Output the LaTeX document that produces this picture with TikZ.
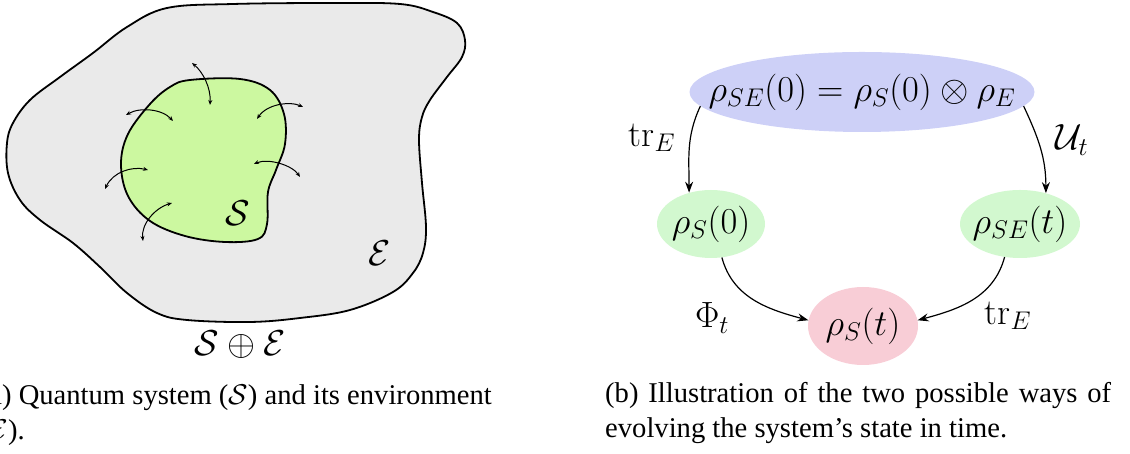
\RequirePackage{fix-cm}
\documentclass[tikz,border=0pt]{standalone}
\usepackage{fontspec}
\newfontfamily\capfont{Liberation Serif}
\usetikzlibrary{shapes.geometric,arrows.meta}
\definecolor{envgray}{RGB}{234,234,234}
\definecolor{sysgreen}{RGB}{204,248,160}
\definecolor{topblue}{RGB}{205,208,247}
\definecolor{nodegreen}{RGB}{210,248,207}
\definecolor{nodepink}{RGB}{248,205,214}
\begin{document}
\begin{tikzpicture}[x=1pt,y=1pt,
  state/.style={ellipse, inner sep=0pt},
  mtext/.style={inner sep=0pt, font=\fontsize{36.5}{40}\selectfont},
  arr/.style={line width=1.2pt, -{Stealth[length=11pt,width=8pt]}},
  smallarr/.style={line width=1pt, {Stealth[length=5pt,width=4pt]}-{Stealth[length=5pt,width=4pt]}},
  lbl/.style={font=\fontsize{36.5}{40}\selectfont, inner sep=0pt},
  biglbl/.style={font=\fontsize{36}{40}\selectfont, inner sep=0pt},
  captext/.style={font=\capfont\fontsize{28.6}{34}\selectfont, inner sep=0pt}]
\useasboundingbox (0,0) rectangle (1130,454);
\begin{scope}
\clip (0,0) rectangle (1130,454);
% environment
\draw[line width=1.8pt, fill=envgray] plot[smooth cycle, tension=0.6] coordinates {
(7,311) (13,331) (30,354) (60,377) (93,401) (127,427) (167,446) (233,450) (333,451) (400,450) (433,442) (457,431) (465,414) (462,397) (447,377) (430,354) (422,337) (419,314) (422,271) (426,227) (423,201) (413,181) (393,162) (350,144) (300,136) (250,132) (187,134) (157,141) (127,161) (100,187) (73,211) (40,234) (20,254) (8,281)};
% system
\draw[line width=1.8pt, fill=sysgreen] plot[smooth cycle, tension=0.6] coordinates {
(190,374) (240,375) (270,364) (284,340) (285,310) (276,284) (268,262) (267,230) (258,215) (225,212) (185,218) (150,233) (128,258) (121,290) (128,320) (150,350) (170,367)};
% interaction arrows
\draw[smallarr] (192,391) .. controls (203,382) and (211,366) .. (210,349);
\draw[smallarr] (126,339) .. controls (140,347) and (162,345) .. (173,333);
\draw[smallarr] (303,347) .. controls (290,353) and (267,350) .. (257,335);
\draw[smallarr] (105,265) .. controls (113,282) and (132,288) .. (148,284);
\draw[smallarr] (300,277) .. controls (292,289) and (268,296) .. (254,290);
\draw[smallarr] (143,213) .. controls (141,230) and (155,246) .. (172,251);
\node[biglbl] (lS) at (238,241) {$\mathcal{S}$};
\node[biglbl] (lE) at (380,201) {$\mathcal{E}$};
\node[biglbl] (lSE) at (240,109) {$\mathcal{S}\oplus\mathcal{E}$};
% captions
\node[captext, anchor=base east] (capa1) at (492,49) {(a) Quantum system ($\mathcal{S}$) and its environment};
\node[captext, anchor=base east] (capa2) at (25,14) {($\mathcal{E}$).};
\node[captext, anchor=base west] (capb1) at (605,51) {\hbox to 506pt{(b) Illustration of the two possible ways of}};
\node[captext, anchor=base west] (capb2) at (605,16) {evolving the system’s state in time.};
% panel b
\node[state, fill=topblue, minimum width=345pt, minimum height=80pt] (top) at (862,362) {};
\node[mtext] (toptext) at (top.center) {$\rho_{SE}(0)=\rho_S(0)\otimes\rho_E$};
\node[state, fill=nodegreen, minimum width=108pt, minimum height=68pt] (l0) at (711,230) {};
\node[mtext] (l0text) at (l0.center) {$\rho_S(0)$};
\node[state, fill=nodegreen, minimum width=120pt, minimum height=68pt] (rt) at (1020,230) {};
\node[mtext] (rttext) at (rt.center) {$\rho_{SE}(t)$};
\node[state, fill=nodepink, minimum width=110pt, minimum height=78pt] (bt) at (863,128) {};
\node[mtext] (bttext) at (bt.center) {$\rho_S(t)$};
\draw[arr] (top.185) to[out=245, in=90] (l0.125);
\draw[arr] (top.355) to[out=-65, in=90] (rt.50);
\draw[arr] (l0.288) to[out=-75, in=165] (bt.174);
\draw[arr] (rt.245) to[out=-105, in=15] (bt.6);
\node[lbl] (t1) at (652,316) {$\mathrm{tr}_E$};
\node[lbl] (t2) at (1072,314) {$\mathcal{U}_t$};
\node[lbl] (t3) at (712,136) {$\Phi_t$};
\node[lbl] (t4) at (1008,138) {$\mathrm{tr}_E$};
\end{scope}
\end{tikzpicture}
\end{document}
